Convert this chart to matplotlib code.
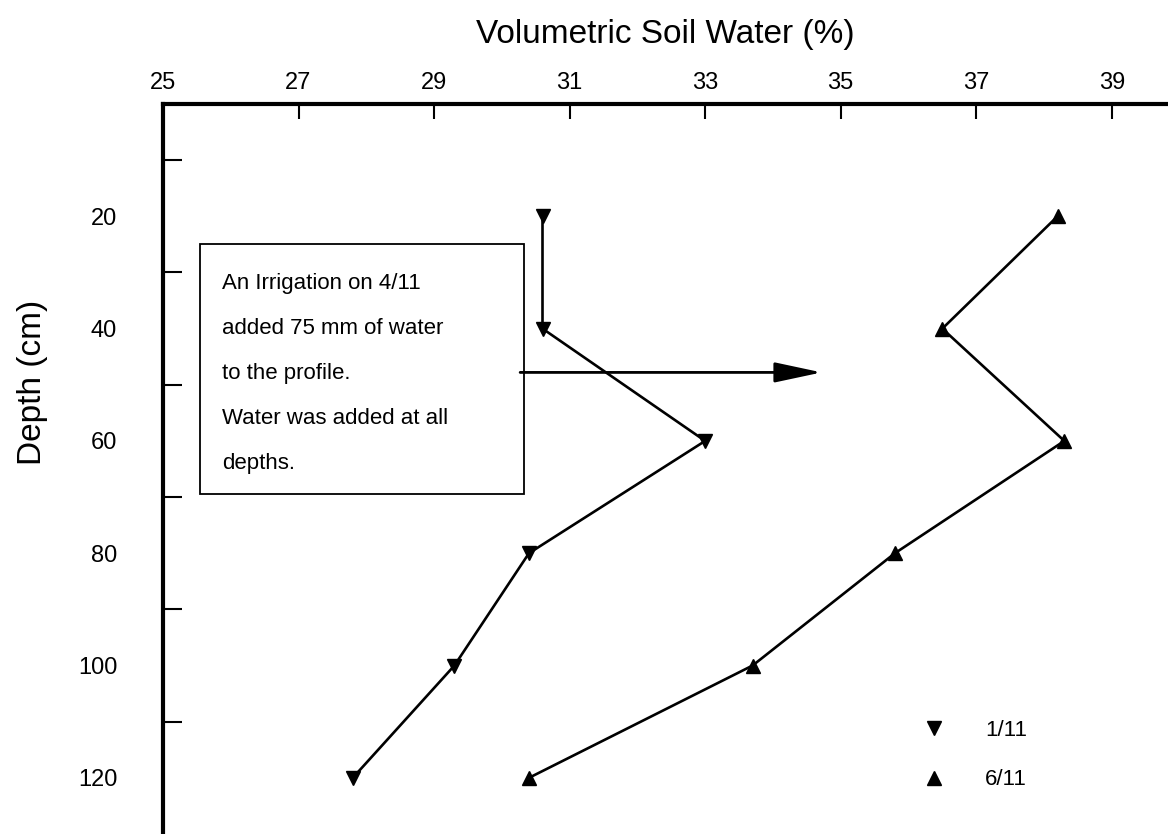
import matplotlib
matplotlib.use("Agg")
import matplotlib.pyplot as plt
from matplotlib.lines import Line2D
from matplotlib.patches import Rectangle

plt.rcParams['font.family'] = ['Liberation Sans', 'DejaVu Sans']

depth = [20, 40, 60, 80, 100, 120]
water_1_11 = [30.6, 30.6, 33.0, 30.4, 29.3, 27.8]
water_6_11 = [38.2, 36.5, 38.3, 35.8, 33.7, 30.4]

x_ticks = [25, 27, 29, 31, 33, 35, 37, 39]
y_ticks = [20, 40, 60, 80, 100, 120]
y_minor = [10, 30, 50, 70, 90, 110]

note = ("An Irrigation on 4/11\nadded 75 mm of water\nto the profile.\n"
        "Water was added at all\ndepths.")


def main():
    fig = plt.figure(figsize=(11.68, 8.34), dpi=100)
    ax = fig.add_axes([163 / 1168, 0, 1005 / 1168, 730 / 834])

    ax.plot(water_1_11, depth, color='black', lw=1.9, marker='v', ms=10,
            clip_on=False, zorder=3)
    ax.plot(water_6_11, depth, color='black', lw=1.9, marker='^', ms=10,
            clip_on=False, zorder=3)

    ax.set_xlim(25, 39.83)
    ax.set_ylim(130, 0)

    # x axis on top
    ax.xaxis.set_ticks_position('top')
    ax.xaxis.set_label_position('top')
    ax.set_xticks(x_ticks)
    ax.tick_params(axis='x', direction='in', length=11, width=1.5,
                   labelsize=17, pad=7)
    ax.set_xlabel('Volumetric Soil Water (%)', fontsize=24, labelpad=21)

    ax.set_yticks(y_ticks)
    ax.set_yticks(y_minor, minor=True)
    ax.tick_params(axis='y', which='major', length=0, labelsize=17, pad=33)
    ax.tick_params(axis='y', which='minor', direction='in', length=14,
                   width=1.5)
    ax.set_ylabel('Depth (cm)', fontsize=24)
    ax.yaxis.set_label_coords(-0.114, 0.618)

    for side in ['right', 'bottom']:
        ax.spines[side].set_visible(False)
    ax.spines['top'].set_linewidth(3)
    ax.spines['left'].set_linewidth(3)

    # note box and arrow
    ax.add_patch(Rectangle((25.55, 25.0), 30.33 - 25.55, 69.5 - 25.0,
                           fc='white', ec='black', lw=1.3, zorder=2))
    ax.text(25.87, 48.0, note, fontsize=16, va='center', ha='left',
            linespacing=2.5, zorder=4)
    ax.annotate('', xy=(34.72, 47.8), xytext=(30.27, 47.8),
                arrowprops=dict(arrowstyle='-|>,head_length=2.9,head_width=0.62',
                                color='black', lw=2, shrinkA=0, shrinkB=0),
                zorder=4)

    handles = [Line2D([], [], color='black', marker='v', ms=10, ls='none'),
               Line2D([], [], color='black', marker='^', ms=10, ls='none')]
    ax.legend(handles, ['1/11', '6/11'], loc='upper left',
              bbox_to_anchor=(0.734, 0.172), frameon=False, fontsize=16,
              handletextpad=1.3, labelspacing=1.3, borderpad=0)

    fig.savefig('out.png', dpi=100)


if __name__ == "__main__":
    main()
